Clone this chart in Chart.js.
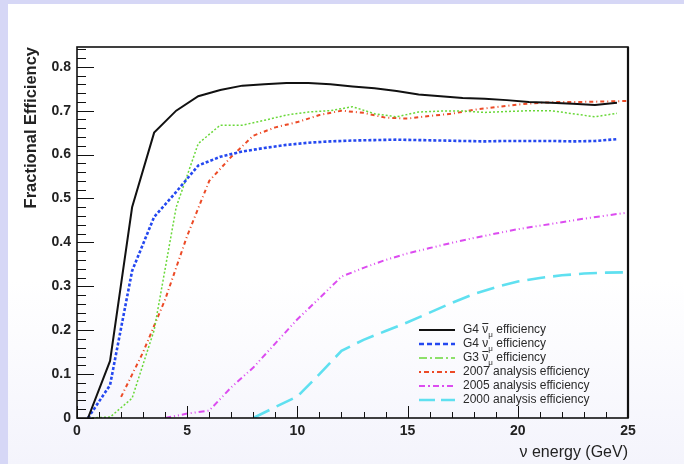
<!DOCTYPE html>
<html>
<head>
<meta charset="utf-8">
<script src="https://cdn.jsdelivr.net/npm/chart.js@4.4.1/dist/chart.umd.min.js"></script>
<style>
  html, body { margin: 0; padding: 0; }
  body { width: 684px; height: 464px; background: #d6d7f6; position: relative; overflow: hidden; }
  .sheet { position: absolute; left: 8px; top: 4px; right: 0; bottom: 0;
           background: linear-gradient(to bottom, #ffffff 0%, #ffffff 60%, #f4f4fc 100%); }
  canvas { position: absolute; left: 0; top: 0; }
</style>
</head>
<body>
<div class="sheet"></div>
<canvas id="eff" width="684" height="464"></canvas>
<script>
// bin centres (GeV) for the G4 / G3 curves
const binCentres = [0.5, 1.5, 2.5, 3.5, 4.5, 5.5, 6.5, 7.5, 8.5, 9.5, 10.5, 11.5, 12.5,
                    13.5, 14.5, 15.5, 16.5, 17.5, 18.5, 19.5, 20.5, 21.5, 22.5, 23.5, 24.5];
const effG4NumuBar = [0.0, 0.13, 0.48, 0.65, 0.70, 0.733, 0.747, 0.757, 0.760, 0.763, 0.763, 0.760, 0.755,
                      0.751, 0.745, 0.737, 0.733, 0.729, 0.727, 0.724, 0.720, 0.718, 0.716, 0.713, 0.718];
const effG4Numu = [0.0, 0.075, 0.335, 0.458, 0.515, 0.575, 0.595, 0.607, 0.615, 0.622, 0.627, 0.630, 0.632,
                   0.633, 0.634, 0.633, 0.632, 0.631, 0.630, 0.631, 0.631, 0.631, 0.630, 0.631, 0.635];
const effG3NumuBar = [0.0, 0.002, 0.045, 0.20, 0.48, 0.625, 0.667, 0.667, 0.678, 0.690, 0.697, 0.700, 0.709,
                      0.693, 0.686, 0.697, 0.699, 0.699, 0.696, 0.698, 0.700, 0.700, 0.693, 0.686, 0.694];

// older analyses, read at whole GeV
const energy2007 = [2, 3, 4, 5, 6, 7, 8, 9, 10, 11, 12, 13, 14, 15, 16, 17, 18, 19, 20, 21, 22, 23, 24, 25];
const eff2007 = [0.048, 0.15, 0.27, 0.415, 0.54, 0.595, 0.643, 0.662, 0.674, 0.690, 0.700, 0.695,
                 0.684, 0.682, 0.688, 0.693, 0.702, 0.708, 0.714, 0.718, 0.720, 0.720, 0.721, 0.722];
const energy2005 = [4, 5, 6, 7, 8, 9, 10, 11, 12, 13, 14, 15, 16, 17, 18, 19, 20, 21, 22, 23, 24, 25];
const eff2005 = [0.0, 0.01, 0.017, 0.07, 0.115, 0.17, 0.225, 0.273, 0.322, 0.342, 0.36,
                 0.375, 0.387, 0.399, 0.41, 0.42, 0.43, 0.438, 0.446, 0.454, 0.461, 0.468];
const energy2000 = [8, 9, 10, 11, 12, 13, 14, 15, 16, 17, 18, 19, 20, 21, 22, 23, 24, 25];
const eff2000 = [0.0, 0.025, 0.049, 0.10, 0.153, 0.178, 0.198, 0.218, 0.24, 0.262, 0.282,
                 0.298, 0.311, 0.319, 0.325, 0.329, 0.331, 0.332];

const xTickLabels = [0, 5, 10, 15, 20, 25];
const yTickLabels = [0, 0.1, 0.2, 0.3, 0.4, 0.5, 0.6, 0.7, 0.8];

const FONT = '"Liberation Sans", Arial, sans-serif';
const pts = (xs, ys) => xs.map((x, i) => ({ x: x, y: ys[i] }));

const series = [
  { label: 'G4 \u03BD\u0304\u03BC efficiency', data: pts(binCentres, effG4NumuBar), color: '#111111', width: 2, dash: [], legendDash: [],
    parts: ['G4 ', 'bar', ' efficiency'] },
  { label: 'G4 \u03BD\u03BC efficiency', data: pts(binCentres, effG4Numu), color: '#2448f0', width: 2.6, dash: [3, 2], legendDash: [5, 3],
    parts: ['G4 ', 'nu', ' efficiency'] },
  { label: 'G3 \u03BD\u0304\u03BC efficiency', data: pts(binCentres, effG3NumuBar), color: '#6ad83a', width: 1.5, dash: [2, 2], legendDash: [8, 3, 2, 3],
    parts: ['G3 ', 'bar', ' efficiency'] },
  { label: '2007 analysis efficiency', data: pts(energy2007, eff2007), color: '#ec4a26', width: 2, dash: [4, 3, 1, 3], legendDash: [2, 3, 5, 3],
    parts: ['2007 analysis efficiency'] },
  { label: '2005 analysis efficiency', data: pts(energy2005, eff2005), color: '#dc4cf0', width: 2, dash: [6, 3, 1, 3, 1, 3], legendDash: [6, 3, 2, 3],
    parts: ['2005 analysis efficiency'] },
  { label: '2000 analysis efficiency', data: pts(energy2000, eff2000), color: '#5fe0f0', width: 2.6, dash: [18, 8], legendDash: [16, 6],
    parts: ['2000 analysis efficiency'] }
];

// ROOT style frame, inward ticks and the legend box
const rootFrame = {
  id: 'rootFrame',
  afterDatasetsDraw(chart) {
    const { ctx, chartArea: a, scales: { x, y } } = chart;
    ctx.save();
    ctx.strokeStyle = '#111';
    ctx.lineWidth = 1;
    ctx.beginPath();
    for (let v = 0; v <= 0.845; v += 0.02) {
      const py = Math.round(y.getPixelForValue(v)) + 0.5;
      const major = Math.abs(v * 10 - Math.round(v * 10)) < 1e-6;
      ctx.moveTo(a.left, py);
      ctx.lineTo(a.left + (major ? 17 : 9), py);
    }
    for (let v = 0; v <= 25; v += 1) {
      const px = Math.round(x.getPixelForValue(v)) + 0.5;
      ctx.moveTo(px, a.bottom);
      ctx.lineTo(px, a.bottom - (v % 5 === 0 ? 12 : 6));
    }
    ctx.stroke();
    ctx.lineWidth = 1.6;
    ctx.strokeRect(a.left, a.top, a.right - a.left, a.bottom - a.top);
    ctx.lineWidth = 2.2;
    ctx.beginPath();
    ctx.moveTo(a.right, a.top);
    ctx.lineTo(a.right, a.bottom);
    ctx.stroke();

    // legend
    const x0 = 419, x1 = 455, tx = 463;
    let ly = 330;
    ctx.textBaseline = 'middle';
    series.forEach(s => {
      ctx.strokeStyle = s.color;
      ctx.lineWidth = s.width;
      ctx.setLineDash(s.legendDash);
      ctx.beginPath();
      ctx.moveTo(x0, ly);
      ctx.lineTo(x1, ly);
      ctx.stroke();
      ctx.setLineDash([]);
      ctx.fillStyle = '#2a2a2a';
      let cx = tx;
      s.parts.forEach(p => {
        if (p === 'bar' || p === 'nu') {
          ctx.font = '12px ' + FONT;
          const w = ctx.measureText('\u03BD').width;
          ctx.fillText('\u03BD', cx, ly);
          if (p === 'bar') {
            ctx.lineWidth = 1;
            ctx.strokeStyle = '#2a2a2a';
            ctx.beginPath();
            ctx.moveTo(cx, ly - 6.5);
            ctx.lineTo(cx + w, ly - 6.5);
            ctx.stroke();
          }
          ctx.font = '8px ' + FONT;
          ctx.fillText('\u03BC', cx + w, ly + 5);
          cx += w + ctx.measureText('\u03BC').width;
        } else {
          ctx.font = '12px ' + FONT;
          ctx.fillText(p, cx, ly);
          cx += ctx.measureText(p).width;
        }
      });
      ly += 14;
    });
    ctx.restore();
  }
};

new Chart(document.getElementById('eff'), {
  type: 'line',
  data: {
    datasets: series.map(s => ({
      label: s.label,
      data: s.data,
      borderColor: s.color,
      borderWidth: s.width,
      borderDash: s.dash,
      pointRadius: 0,
      tension: 0,
      fill: false
    }))
  },
  options: {
    responsive: false,
    animation: false,
    devicePixelRatio: 1,
    layout: { padding: { left: 0, top: 47, right: 56, bottom: 0 } },
    plugins: { legend: { display: false }, tooltip: { enabled: false } },
    scales: {
      x: {
        type: 'linear', min: 0, max: 25,
        grid: { display: false, drawTicks: false },
        border: { display: false },
        afterBuildTicks: sc => { sc.ticks = xTickLabels.map(v => ({ value: v })); },
        afterFit: sc => { sc.height = 46; },
        ticks: { padding: 5, maxRotation: 0, color: '#222',
                 font: { family: FONT, size: 14, weight: 'bold' } },
        title: { display: true, text: '\u03BD energy (GeV)', align: 'end', color: '#222',
                 padding: { top: 0, bottom: 2 },
                 font: { family: FONT, size: 16 } }
      },
      y: {
        type: 'linear', min: 0, max: 0.845,
        grid: { display: false, drawTicks: false },
        border: { display: false },
        afterBuildTicks: sc => { sc.ticks = yTickLabels.map(v => ({ value: v })); },
        afterFit: sc => { sc.width = 77; },
        ticks: { padding: 6, color: '#222',
                 font: { family: FONT, size: 14, weight: 'bold' } },
        title: { display: true, text: 'Fractional Efficiency', align: 'end', color: '#222',
                 padding: { top: 22, bottom: 0 },
                 font: { family: FONT, size: 16.5, weight: 'bold' } }
      }
    }
  },
  plugins: [rootFrame]
});
</script>
</body>
</html>
